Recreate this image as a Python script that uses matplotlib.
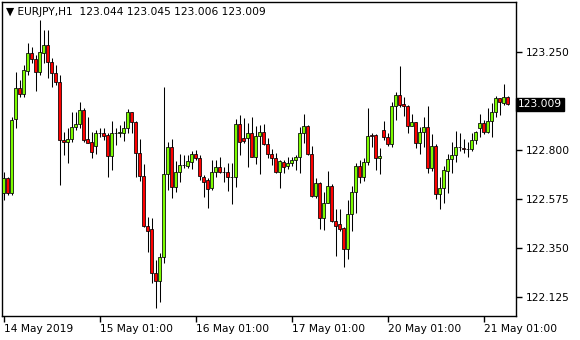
import matplotlib
matplotlib.use("Agg")
import matplotlib.pyplot as plt
import numpy as np

symbol = "EURJPY,H1"
opens = [122.601,122.670,122.601,122.940,123.082,123.055,123.163,123.242,123.215,123.159,
         123.246,123.281,123.204,123.151,123.110,122.845,122.838,122.848,122.904,122.917,
         122.983,122.848,122.835,122.818,122.876,122.879,122.868,122.774,122.876,122.877,
         122.879,122.902,122.972,122.926,122.784,122.682,122.453,122.438,122.235,122.201,
         122.308,122.690,122.815,122.632,122.697,122.731,122.726,122.746,122.780,122.761,
         122.677,122.662,122.624,122.697,122.720,122.700,122.700,122.674,122.674,122.917,
         122.853,122.856,122.879,122.769,122.864,122.881,122.826,122.780,122.761,122.697,
         122.743,122.728,122.739,122.754,122.766,122.876,122.910,122.780,122.589,122.650,
         122.487,122.558,122.635,122.476,122.459,122.441,122.345,122.505,122.606,122.726,
         122.674,122.743,122.868,122.868,122.761,122.891,122.858,122.826,123.001,123.052,
         123.009,123.001,122.911,122.926,122.833,122.881,122.903,122.716,122.818,122.597,
         122.624,122.705,122.757,122.777,122.812,122.807,122.803,122.806,122.845,122.899,
         122.922,122.881,122.932,122.972,123.036,123.013,123.044]
highs = [122.700,122.678,122.952,123.159,123.120,123.189,123.291,123.273,123.235,123.395,
         123.349,123.349,123.220,123.189,123.143,122.884,122.899,122.975,122.975,123.021,
         122.991,122.949,122.884,122.891,122.902,122.902,122.879,122.934,122.902,122.914,
         122.934,122.987,122.975,122.934,122.848,122.736,122.491,122.487,122.296,122.326,
         123.087,122.838,122.848,122.749,122.780,122.777,122.777,122.797,122.800,122.777,
         122.685,122.673,122.754,122.754,122.769,122.723,122.739,122.739,122.942,122.960,
         122.945,122.922,122.949,122.910,122.914,122.917,122.853,122.803,122.784,122.754,
         122.754,122.769,122.769,122.777,122.906,122.963,122.914,122.820,122.670,122.651,
         122.609,122.703,122.644,122.528,122.528,122.448,122.571,122.635,122.739,122.754,
         122.761,122.994,122.876,122.871,122.807,122.934,122.876,123.021,123.067,123.184,
         123.041,123.006,122.965,122.929,122.906,122.949,123.001,122.873,122.826,122.677,
         122.728,122.781,122.838,122.887,122.879,122.850,122.835,122.876,122.887,122.965,
         122.937,122.994,123.017,123.048,123.039,123.102,123.045]
lows = [122.571,122.594,122.594,122.899,123.044,123.044,123.143,123.197,123.071,123.143,
        123.197,123.128,123.087,123.097,122.639,122.777,122.739,122.838,122.891,122.899,
        122.838,122.830,122.761,122.781,122.861,122.845,122.677,122.708,122.823,122.858,
        122.842,122.876,122.876,122.677,122.658,122.448,122.331,122.189,122.074,122.105,
        122.280,122.616,122.578,122.609,122.655,122.716,122.719,122.711,122.754,122.662,
        122.586,122.532,122.616,122.677,122.693,122.655,122.613,122.552,122.629,122.777,
        122.833,122.723,122.766,122.736,122.688,122.823,122.761,122.731,122.696,122.627,
        122.696,122.711,122.726,122.708,122.696,122.833,122.778,122.586,122.578,122.438,
        122.433,122.555,122.471,122.314,122.430,122.265,122.299,122.430,122.513,122.650,
        122.659,122.731,122.815,122.708,122.688,122.845,122.818,122.812,122.937,122.998,
        122.955,122.879,122.910,122.807,122.781,122.812,122.693,122.705,122.574,122.529,
        122.555,122.604,122.693,122.746,122.797,122.787,122.769,122.797,122.827,122.861,
        122.871,122.879,122.861,122.952,122.960,123.006,123.006]
closes = [122.670,122.601,122.937,123.082,123.055,123.166,123.242,123.215,123.159,123.247,
          123.281,123.204,123.151,123.110,122.845,122.838,122.848,122.906,122.917,122.983,
          122.845,122.833,122.792,122.876,122.879,122.865,122.774,122.876,122.877,122.881,
          122.902,122.972,122.926,122.784,122.682,122.453,122.430,122.235,122.201,122.308,
          122.690,122.815,122.632,122.700,122.731,122.732,122.749,122.780,122.761,122.680,
          122.655,122.621,122.697,122.720,122.700,122.699,122.674,122.676,122.917,122.838,
          122.841,122.876,122.769,122.864,122.884,122.826,122.780,122.761,122.697,122.749,
          122.723,122.739,122.754,122.769,122.876,122.910,122.780,122.590,122.650,122.487,
          122.558,122.635,122.476,122.453,122.438,122.345,122.505,122.606,122.726,122.674,
          122.743,122.864,122.862,122.761,122.772,122.858,122.826,123.001,123.052,123.006,
          123.000,122.911,122.926,122.833,122.881,122.903,122.716,122.818,122.597,122.624,
          122.708,122.757,122.777,122.812,122.813,122.803,122.806,122.845,122.881,122.922,
          122.881,122.932,122.972,123.036,123.018,123.044,123.009]

price_ticks = [123.250, 122.800, 122.575, 122.350, 122.125]
time_tick_idx = [0, 24, 48, 72, 96, 120]
time_tick_labels = ["14 May 2019", "15 May 01:00", "16 May 01:00",
                    "17 May 01:00", "20 May 01:00", "21 May 01:00"]

W, H = 580, 340
fig = plt.figure(figsize=(W/100, H/100), dpi=100)
fig.patch.set_facecolor("white")
L, R, T, B = 2, 516, 2, 316
ax = fig.add_axes([L/W, (H-B)/H, (R-L)/W, (B-T)/H])

YMIN, YMAX = 122.0393, 123.4777

o = np.array(opens); h = np.array(highs); l = np.array(lows); c = np.array(closes)
x = np.arange(len(o))
up = c >= o
body_bot = np.minimum(o, c)
body_h = np.maximum(np.abs(c - o), 0.0004)
cols = ["#7cfc00" if u else "#ff0000" for u in up]

ax.vlines(x, l, h, color="black", linewidth=0.75, zorder=2)
ax.bar(x, body_h, bottom=body_bot, width=0.6, color=cols,
       edgecolor="black", linewidth=0.55, zorder=3)

ax.set_xlim(-0.375, 128.125)
ax.set_ylim(YMIN, YMAX)

for s in ax.spines.values():
    s.set_color("black"); s.set_linewidth(1.0)

ax.yaxis.tick_right()
ax.set_yticks(price_ticks)
ax.set_yticklabels([f"{p:.3f}" for p in price_ticks])
ax.tick_params(axis="y", direction="out", length=4, width=1, pad=3,
               labelsize=7.7, colors="black")
ax.set_xticks(time_tick_idx)
ax.set_xticklabels(time_tick_labels)
ax.tick_params(axis="x", direction="out", length=4, width=1, pad=2,
               labelsize=7.7, colors="black")
for lab in ax.get_xticklabels():
    lab.set_horizontalalignment("left")

# current price box
last = closes[-1]
ax.text(1.0035, last, f"{last:.3f}", transform=ax.get_yaxis_transform(),
        ha="left", va="center", fontsize=7.7, color="white",
        bbox=dict(boxstyle="square,pad=0.15", fc="black", ec="black"), clip_on=False)

hdr = f"\u25BC {symbol}  {opens[-1]:.3f} {highs[-1]:.3f} {lows[-1]:.3f} {closes[-1]:.3f}"
fig.text(6/W, 1-12/H, hdr, ha="left", va="center", fontsize=7.7, color="black")

fig.savefig("out.png", dpi=100, facecolor="white")
